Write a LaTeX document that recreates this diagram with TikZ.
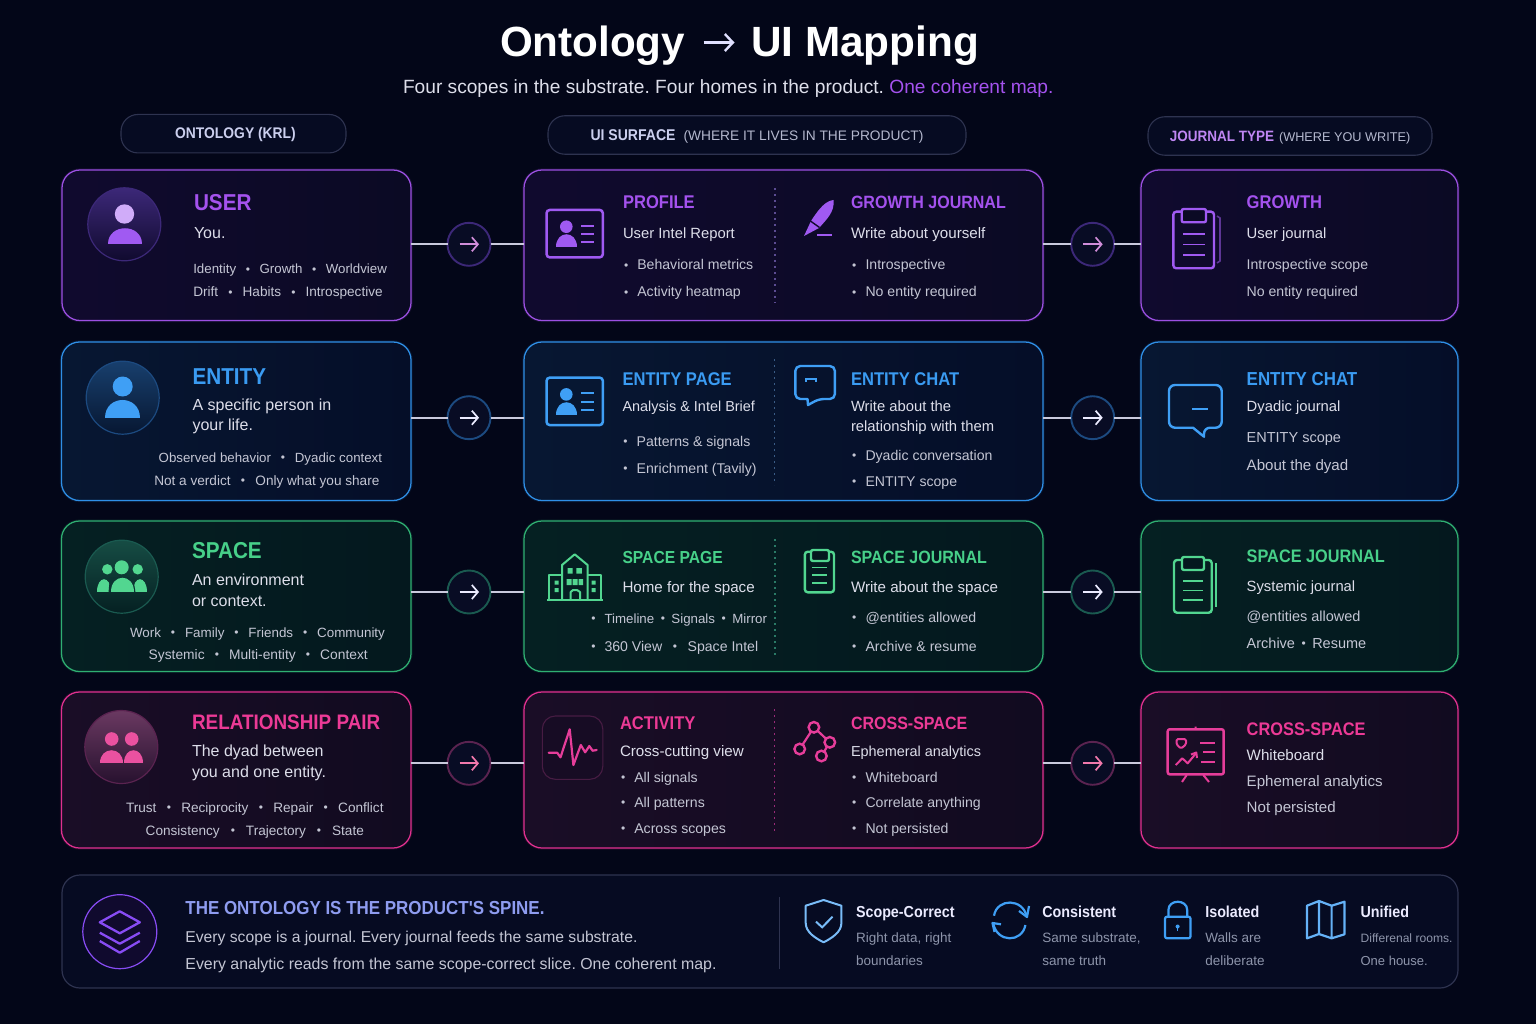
\documentclass[tikz,border=0pt]{standalone}
\usepackage{fontspec}
\setmainfont{Liberation Sans}
\newfontfamily\hdf[FakeStretch=0.9]{Liberation Sans}
\usetikzlibrary{arrows.meta,calc}
\frenchspacing
\definecolor{bg}{HTML}{030618}
\definecolor{puLine}{HTML}{9C50E2}\definecolor{puTitle}{HTML}{A452EE}\definecolor{puL}{HTML}{100A2E}\definecolor{puR}{HTML}{0B0A24}\definecolor{puRing}{HTML}{3C2878}\definecolor{puDiv}{HTML}{5C4C92}\definecolor{puIcon}{HTML}{A05AF2}
\definecolor{blLine}{HTML}{2F8FE6}\definecolor{blTitle}{HTML}{3A9BF2}\definecolor{blL}{HTML}{071732}\definecolor{blR}{HTML}{050E28}\definecolor{blRing}{HTML}{1C4A80}\definecolor{blDiv}{HTML}{3A5C86}\definecolor{blIcon}{HTML}{3F9FF5}
\definecolor{grLine}{HTML}{2FAF72}\definecolor{grTitle}{HTML}{47D089}\definecolor{grL}{HTML}{052022}\definecolor{grR}{HTML}{04181E}\definecolor{grRing}{HTML}{1A5A50}\definecolor{grDiv}{HTML}{2A7A66}\definecolor{grIcon}{HTML}{52D690}
\definecolor{piLine}{HTML}{E0308F}\definecolor{piTitle}{HTML}{EC3A96}\definecolor{piL}{HTML}{1A0D26}\definecolor{piR}{HTML}{110B20}\definecolor{piRing}{HTML}{5A2350}\definecolor{piDiv}{HTML}{9A2A78}\definecolor{piIcon}{HTML}{E63D9A}
\definecolor{bodyc}{HTML}{DDDEEA}\definecolor{tagc}{HTML}{C4C6D4}\definecolor{linkc}{HTML}{C9C9DC}\definecolor{footc}{HTML}{8E95AB}\definecolor{pillc}{HTML}{CBCFEE}\definecolor{pillsub}{HTML}{B4B8CE}
\definecolor{panel}{HTML}{060B22}\definecolor{panelline}{HTML}{2E3350}\definecolor{circfill}{HTML}{080C24}\definecolor{spine}{HTML}{8E9CF0}
\newcount\tcnt
\newcommand\fa{\hdf\bfseries\fontsize{23}{23}\selectfont}
\newcommand\fb{\hdf\bfseries\fontsize{18.4}{18}\selectfont}
\newcommand\fbs{\hdf\bfseries\fontsize{17.8}{18}\selectfont}
\newcommand\fc{\fontsize{16}{16}\selectfont}
\newcommand\fm{\fontsize{14.8}{15}\selectfont}
\newcommand\fmb{\fontsize{15.15}{15}\selectfont}
\newcommand\fms{\fontsize{14.45}{15}\selectfont}
\newcommand\fd{\fontsize{14.1}{14}\selectfont}
\newcommand\fe{\fontsize{14.5}{14}\selectfont}
\newcommand\ff{\fontsize{15.1}{15}\selectfont}
\newcommand\ft{\fontsize{13.3}{14}\selectfont}
\newcommand\ftb{\fontsize{13.6}{14}\selectfont}
\newcommand\dotb{\raisebox{0.9pt}{\fontsize{12}{12}\selectfont •}}
\newcommand\sx[1]{\hspace{#1pt}\dotb\hspace{#1pt}}
\newcommand{\tx}[5]{\global\advance\tcnt by 1 \node[lbl,text=#3,font=#4] (t\the\tcnt) at (#1,#2) {#5};}
\newcommand{\li}[3]{\tx{#1}{#2}{tagc}{\fd}{\dotb\hspace{9.1pt}#3}}
\newcommand{\card}[6]{\node[cardbox,draw=#6Line,left color=#6L,right color=#6R,
  preaction={draw=#6Line,line width=3.2pt,opacity=.12},
  minimum width=#4pt-#2pt,minimum height=#5pt-#3pt] (#1) at ({(#2+#4)/2},{(#3+#5)/2}) {};}
\newcommand{\flow}[3]{%
  \draw[linkline] (#1.east |- #2.center) -- (#2);
  \draw[linkline] (#2) -- (#3.west |- #2.center);}
\newcommand{\arr}[3]{\node[arrowc,draw=#3Ring] (#1) at (#2) {};}
\newcommand{\arrh}[2]{\draw[line width=1.7pt,#2,-{Straight Barb[length=6pt,width=14pt,line width=1.7pt]}] ([xshift=-9.5pt]#1.center) -- ([xshift=10pt]#1.center);}
\newcommand{\dome}[5]{\fill[#5] (#1,#4) .. controls (#1,{#3-(#4-#3)/3}) and (#2,{#3-(#4-#3)/3}) .. (#2,#4) -- cycle;}
\newcommand{\idcard}[2]{%
  \begin{scope}[yshift={-(#1-210)*1pt}]
  \draw[line width=2.5pt,#2Icon,rounded corners=3pt,fill=#2L] (546.6,210) rectangle (602.8,257.3);
  \fill[#2Icon] (566.3,226.7) circle (6.3);
  \dome{555.5}{577}{234.5}{247}{#2Icon}
  \draw[line width=1.9pt,#2Icon] (581,225.7) -- (594,225.7) (581,234) -- (594,234) (581,242.3) -- (594,242.3);
  \end{scope}}
\newcommand{\clipboard}[9]{%
  \draw[line width=2.4pt,#9Icon,rounded corners=3pt] (#1,#2) rectangle (#3,#4);
  \draw[line width=2.4pt,#9Icon,fill=#9R,rounded corners=2pt] (#5,#6) rectangle (#7,#8);}
\tikzset{x=1pt,y=-1pt,
  lbl/.style={anchor=base west,inner sep=0pt,outer sep=0pt},
  cardbox/.style={rectangle,rounded corners=18pt,line width=1.25pt,inner sep=0pt,outer sep=0pt},
  arrowc/.style={circle,minimum size=43pt,line width=1.9pt,fill=circfill,inner sep=0pt,outer sep=0pt},
  linkline/.style={draw=linkc,line width=1.7pt},
  pill/.style={rectangle,rounded corners=17pt,draw=panelline,line width=1.1pt,fill=panel,inner sep=0pt,minimum height=38.5pt},
  bub/.style={circle,inner sep=0pt,minimum size=73pt,line width=1.2pt},
  divd/.style={line width=1.3pt,dash pattern=on 1.6pt off 4.4pt},
}
\begin{document}
\begin{tikzpicture}
\useasboundingbox (0,0) rectangle (1536,1024);
\fill[bg] (0,0) rectangle (1536,1024);

% title
\tx{500}{57}{white}{\bfseries\fontsize{42.2}{42}\selectfont}{Ontology}
\tx{751}{57}{white}{\bfseries\fontsize{42.3}{42}\selectfont}{UI Mapping}
\node[inner sep=0pt,outer sep=0pt] (tarrA) at (703,42.5) {};
\node[inner sep=0pt,outer sep=0pt] (tarrB) at (735,42.5) {};
\draw[line width=2.4pt,white!88!blue,-{Straight Barb[length=8pt,width=17pt,line width=2.4pt]}] (tarrA) -- (tarrB);
\tx{403}{94}{bodyc}{\fontsize{19.15}{19}\selectfont}{Four scopes in the substrate. Four homes in the product. \textcolor{puTitle}{One coherent map.}}

% column pills
\node[pill,minimum width=225pt,text=pillc] (p1) at (233.5,133.7) {\hspace{4pt}\raisebox{-5.2pt}[0pt][0pt]{\hdf\bfseries\fontsize{15.4}{15}\selectfont ONTOLOGY (KRL)}};
\node[pill,minimum width=418pt,text=pillsub] (p2) at (757,135) {\raisebox{-6pt}[0pt][0pt]{\textcolor{pillc}{\hdf\bfseries\fontsize{15.6}{15}\selectfont UI SURFACE}\hspace{8pt}{\fontsize{13.75}{14}\selectfont(WHERE IT LIVES IN THE PRODUCT)}}};
\node[pill,minimum width=284pt,text=pillsub] (p3) at (1290,136) {\raisebox{-5.5pt}[0pt][0pt]{\textcolor{puTitle!70!white}{\hdf\bfseries\fontsize{15}{14}\selectfont JOURNAL TYPE}\hspace{5pt}{\fontsize{12.7}{14}\selectfont(WHERE YOU WRITE)}}};

% cards
\card{c1}{62}{170}{411}{320.5}{pu}
\card{m1}{524}{170}{1043}{320.5}{pu}
\card{r1}{1141}{170}{1458}{320.5}{pu}
\card{c2}{61.5}{342}{411}{500.5}{bl}
\card{m2}{524}{342}{1043}{500.5}{bl}
\card{r2}{1141}{342}{1458}{500.5}{bl}
\card{c3}{61.5}{521}{411}{671.5}{gr}
\card{m3}{524}{521}{1043}{671.5}{gr}
\card{r3}{1141}{521}{1458}{671.5}{gr}
\card{c4}{61.5}{692}{411}{848}{pi}
\card{m4}{524}{692}{1043}{848}{pi}
\card{r4}{1141}{692}{1458}{848}{pi}

% connectors
\arr{a1}{469,244.3}{pu}\arr{b1}{1092.7,244.3}{pu}
\arr{a2}{469,417.7}{bl}\arr{b2}{1092.7,417.7}{bl}
\arr{a3}{469,592}{gr}\arr{b3}{1092.7,592}{gr}
\arr{a4}{469,763.3}{pi}\arr{b4}{1092.7,763.3}{pi}
\flow{c1}{a1}{m1}\flow{m1}{b1}{r1}
\flow{c2}{a2}{m2}\flow{m2}{b2}{r2}
\flow{c3}{a3}{m3}\flow{m3}{b3}{r3}
\flow{c4}{a4}{m4}\flow{m4}{b4}{r4}
\arrh{a1}{puIcon!50!pink}\arrh{b1}{puIcon!50!pink}
\arrh{a2}{white!92!blue}\arrh{b2}{white!92!blue}
\arrh{a3}{white!92!blue}\arrh{b3}{white!92!blue}
\arrh{a4}{piIcon!55!pink}\arrh{b4}{piIcon!55!pink}

% left column icons
\node[bub,draw=puRing,top color=puRing,bottom color=puL] (i1) at (124.3,224.3) {};
\fill[puIcon!50!white] (124.5,214) circle (9.7);
\dome{107.5}{141.5}{228}{243.7}{puIcon}
\node[bub,draw=blRing,top color=blRing!85!black,bottom color=blL] (i2) at (122.7,397.7) {};
\fill[blIcon] (122.7,386.5) circle (10);
\dome{105}{140.3}{400}{417.5}{blIcon}
\node[bub,draw=grRing,top color=grRing!85!black,bottom color=grL] (i3) at (121.7,576.7) {};
\fill[grIcon] (121.7,567.3) circle (7) (107.3,569.3) circle (5.2) (137.7,569.3) circle (5.2);
\dome{97}{111}{579}{592.3}{grIcon}
\dome{133}{147}{579}{592.3}{grIcon}
\fill[grRing!35!grL] (108.5,592.3) -- (110,577) -- (133,577) -- (135.5,592.3) -- cycle;
\dome{111}{134.3}{577.7}{592.3}{grIcon}
\node[bub,draw=piRing,top color=piRing!90!white,bottom color=piL!80!piRing] (i4) at (121.3,747) {};
\fill[piIcon!85!pink] (111.7,739) circle (6.8) (131.7,739) circle (6.8);
\dome{100}{122.7}{750}{763.3}{piIcon!85!pink}
\dome{124}{143.3}{750}{763.3}{piIcon!85!pink}

% left column text
\tx{194}{210.7}{puTitle}{\fa}{USER}
\tx{194}{238.7}{bodyc}{\fc}{You.}
\tx{193.3}{274}{tagc}{\ft}{Identity\sx{9.6}Growth\sx{9.6}Worldview}
\tx{193.3}{297}{tagc}{\ftb}{Drift\sx{10.1}Habits\sx{10.1}Introspective}
\tx{192.5}{384}{blTitle}{\fa}{ENTITY}
\tx{192.5}{410.7}{bodyc}{\fc}{A specific person in}
\tx{192.5}{430.7}{bodyc}{\fc}{your life.}
\tx{158.7}{462}{tagc}{\ft}{Observed behavior\sx{9.8}Dyadic context}
\tx{154.3}{485.3}{tagc}{\ftb}{Not a verdict\sx{10.3}Only what you share}
\tx{192}{558.3}{grTitle}{\fa}{SPACE}
\tx{192}{585}{bodyc}{\fc}{An environment}
\tx{192}{606}{bodyc}{\fc}{or context.}
\tx{130}{637}{tagc}{\fontsize{13.4}{14}\selectfont}{Work\sx{9.9}Family\sx{9.9}Friends\sx{9.9}Community}
\tx{148.7}{659.7}{tagc}{\fontsize{13.8}{14}\selectfont}{Systemic\sx{10.1}Multi-entity\sx{10.1}Context}
\tx{192}{729.3}{piTitle}{\hdf\bfseries\fontsize{21}{21}\selectfont}{RELATIONSHIP PAIR}
\tx{192}{756.7}{bodyc}{\fc}{The dyad between}
\tx{192}{777.7}{bodyc}{\fc}{you and one entity.}
\tx{126}{812}{tagc}{\ftb}{Trust\sx{10.3}Reciprocity\sx{10.3}Repair\sx{10.3}Conflict}
\tx{145.7}{835}{tagc}{\ftb}{Consistency\sx{11}Trajectory\sx{11}State}

% middle dividers
\draw[divd,puDiv] (775,188) -- (775,303);
\draw[divd,blDiv] (774.7,359) -- (774.7,485);
\draw[divd,grDiv] (775,539) -- (775,655);
\draw[divd,piDiv] (774.6,709) -- (774.6,833);

% middle icons
\idcard{210}{pu}
\idcard{377.7}{bl}
% pen
\fill[puIcon] (833.5,200) .. controls (826,201) and (820,207) .. (811,221) -- (804,236) -- (819,228) .. controls (826,220) and (835,212) .. cycle;
\draw[line width=1.4pt,puL] (809,220) -- (819.5,227.5);
\draw[line width=2pt,puIcon] (817.3,235.5) -- (831.5,235.5);
% chat mid
\draw[line width=2.4pt,blIcon,rounded corners=5pt,line join=round] (795.3,382) -- (795.3,366) -- (834.9,366) -- (834.9,399) -- (819,399) [sharp corners] -- (808,405) -- (807.5,399) [rounded corners=5pt] -- (795.3,399) -- cycle;
\draw[line width=2.6pt,blIcon] (806,381.5) -- (806,379) -- (816,379) -- (816,382);
% building
\begin{scope}[line width=2pt,grIcon,line join=round]
\draw (547,600) -- (602.8,600);
\draw (562,600) -- (562,565) -- (574.7,554.3) -- (587.6,565) -- (587.6,600);
\draw (549,600) -- (549,575) -- (562,575) (587.6,575) -- (601,575) -- (601,600);
\draw (570.7,600) -- (570.7,592) -- (573,590) -- (577,590) -- (580,592) -- (580,600);
\fill (567.5,568) rectangle (572.7,573.5) (576.4,568) rectangle (581.8,573.5)
      (566.5,579) rectangle (571.5,585) (572.5,579) rectangle (577.5,585) (578.5,579) rectangle (583,585)
      (554.5,580.5) rectangle (558.5,584.5) (554.5,588) rectangle (558.5,592) (591.5,580.5) rectangle (595.5,584.5) (591.5,588) rectangle (595.5,592);
\end{scope}
% space journal mid
\clipboard{804.8}{551.7}{834}{592.3}{811}{550}{829}{561}{gr}
\draw[line width=1.6pt,grIcon] (812,567.3) -- (827,567.3) (812,575) -- (827,575) (812,582.7) -- (827,582.7);
% pulse
\draw[line width=1.1pt,piRing!70!piL,rounded corners=13pt,fill=piL!70!piR] (542.3,716) rectangle (602.8,779.3);
\draw[line width=2.2pt,piIcon,line join=round,line cap=round] (548.7,752.7) -- (557.2,752.7) -- (560.5,757.3) -- (569.7,729.3) -- (573.4,765) -- (580.8,745) -- (585.2,752.3) -- (589.3,746) -- (592.6,750.7) -- (596.7,750);
% cross-space graph
\draw[line width=2.2pt,piIcon] (813.9,727.3) -- (799.7,749) (813.9,727.3) -- (829.8,742.3) -- (821.4,756);
\draw[line width=2.4pt,piIcon,fill=piR] (813.9,727.3) circle (5.3) (829.8,742.3) circle (5.3) (799.7,749) circle (5.3) (821.4,756) circle (5.3);

% middle text
\tx{623}{209}{puTitle}{\fb}{PROFILE}
\tx{623}{238.7}{bodyc}{\fm}{User Intel Report}
\li{624}{270}{Behavioral metrics}
\li{624}{297}{Activity heatmap}
\tx{851}{209}{puTitle}{\fbs}{GROWTH JOURNAL}
\tx{851}{238.7}{bodyc}{\fmb}{Write about yourself}
\li{852.2}{270}{Introspective}
\li{852.2}{297}{No entity required}
\tx{622.5}{385}{blTitle}{\fb}{ENTITY PAGE}
\tx{622.5}{411.7}{bodyc}{\fms}{Analysis \& Intel Brief}
\li{623.4}{446}{Patterns \& signals}
\li{623.4}{473.7}{Enrichment (Tavily)}
\tx{851}{385}{blTitle}{\fb}{ENTITY CHAT}
\tx{851}{411.7}{bodyc}{\fm}{Write about the}
\tx{851}{431.7}{bodyc}{\fm}{relationship with them}
\li{852.2}{460.7}{Dyadic conversation}
\li{852.2}{486.7}{ENTITY scope}
\tx{622.5}{563.3}{grTitle}{\fontsize{17.4}{18}\selectfont\hdf\bfseries}{SPACE PAGE}
\tx{622.5}{592.7}{bodyc}{\fmb}{Home for the space}
\tx{591.4}{623.7}{tagc}{\ft}{\dotb\hspace{8.9pt}Timeline\sx{6.5}Signals\sx{6.5}Mirror}
\tx{591.4}{651.7}{tagc}{\fd}{\dotb\hspace{8.9pt}360 View\sx{10.6}Space Intel}
\tx{851}{563.3}{grTitle}{\fbs}{SPACE JOURNAL}
\tx{851}{592.7}{bodyc}{\fmb}{Write about the space}
\li{852.2}{622}{@entities allowed}
\li{852.2}{651.3}{Archive \& resume}
\tx{620}{729.3}{piTitle}{\fb}{ACTIVITY}
\tx{620}{756}{bodyc}{\fmb}{Cross-cutting view}
\li{621}{782.3}{All signals}
\li{621}{807.7}{All patterns}
\li{621}{833}{Across scopes}
\tx{851}{729.3}{piTitle}{\fbs}{CROSS-SPACE}
\tx{851}{756}{bodyc}{\fms}{Ephemeral analytics}
\li{852.2}{782.3}{Whiteboard}
\li{852.2}{807.7}{Correlate anything}
\li{852.2}{833}{Not persisted}

% right icons
\draw[line width=1.6pt,puIcon!55!puR] (1217,216) -- (1220,218) -- (1220,261) -- (1217,263);
\clipboard{1173.3}{211.7}{1214}{268.3}{1181.7}{209}{1206}{222.3}{pu}
\draw[line width=1.6pt,puIcon] (1183,234) -- (1205,234) (1183,244.7) -- (1205,244.7) (1183,255) -- (1205,255);
\draw[line width=2.4pt,blIcon,rounded corners=6pt,line join=round] (1169,405) -- (1169,385) -- (1221.7,385) -- (1221.7,427.7) -- (1204,427.7) [sharp corners] -- (1204,436.7) -- (1193,427.7) [rounded corners=6pt] -- (1169,427.7) -- cycle;
\draw[line width=2.4pt,blIcon] (1192,409) -- (1208,409);
\draw[line width=1.8pt,grIcon] (1216,563) -- (1216,607);
\clipboard{1174}{560}{1211.7}{612.7}{1182}{557}{1204}{570}{gr}
\draw[line width=1.6pt,grIcon] (1183,581) -- (1203,581) (1183,590.3) -- (1203,590.3) (1183,599.7) -- (1203,599.7);
\begin{scope}[piIcon,line join=round]
\draw[line width=2.5pt,rounded corners=2pt] (1167.7,729.3) rectangle (1223.7,774.3);
\draw[line width=2pt] (1195.5,729) -- (1195.5,726.5) (1186.7,775) -- (1182,782) (1203.3,775) -- (1209,782);
\draw[line width=2pt,rounded corners=1.5pt] (1176.5,739) -- (1186,739) -- (1186,744.5) -- (1181,748.5) -- (1176.5,744.5) -- cycle;
\draw[line width=2pt] (1175.7,765) -- (1182.3,758.3) -- (1187.7,763.3) -- (1196,753.3);
\draw[line width=2pt] (1191,754.5) -- (1196.3,752.5) -- (1197,758);
\draw[line width=1.8pt] (1200,742.7) -- (1215,742.7) (1203,752) -- (1215,752) (1201,762) -- (1215,762);
\end{scope}

% right text
\tx{1246.7}{209}{puTitle}{\fb}{GROWTH}
\tx{1246.7}{238.7}{bodyc}{\fm}{User journal}
\tx{1246.7}{270}{tagc}{\fd}{Introspective scope}
\tx{1246.7}{297}{tagc}{\fd}{No entity required}
\tx{1246.7}{385}{blTitle}{\fontsize{18.8}{18}\selectfont\hdf\bfseries}{ENTITY CHAT}
\tx{1246.7}{411.7}{bodyc}{\fm}{Dyadic journal}
\tx{1246.7}{442.3}{tagc}{\fe}{ENTITY scope}
\tx{1246.7}{470.3}{tagc}{\ff}{About the dyad}
\tx{1246.7}{562.3}{grTitle}{\fontsize{18.1}{18}\selectfont\hdf\bfseries}{SPACE JOURNAL}
\tx{1246.7}{591.3}{bodyc}{\fm}{Systemic journal}
\tx{1246.7}{621.3}{tagc}{\fe}{@entities allowed}
\tx{1246.7}{648}{tagc}{\fe}{Archive\hspace{6.5pt}\dotb\hspace{6.5pt}Resume}
\tx{1246.7}{735}{piTitle}{\fontsize{18.2}{18}\selectfont\hdf\bfseries}{CROSS-SPACE}
\tx{1246.7}{760.7}{bodyc}{\fmb}{Whiteboard}
\tx{1246.7}{786.7}{tagc}{\ff}{Ephemeral analytics}
\tx{1246.7}{812.7}{tagc}{\ff}{Not persisted}

% footer panel
\node[cardbox,draw=panelline,line width=1.2pt,fill=panel,minimum width=1396pt,minimum height=113pt] (foot) at (760,931.5) {};
\node[bub,draw=puIcon!85!blue,fill=puL,minimum size=74pt] (i5) at (119.8,931.7) {};
\begin{scope}[line width=2.3pt,puIcon!85!blue,line join=round]
\draw (119.8,911.3) -- (139.8,922.3) -- (119.8,933.3) -- (99.8,922.3) -- cycle;
\draw (99.8,932.7) -- (119.8,943.7) -- (139.8,932.7);
\draw (99.8,941) -- (119.8,952.7) -- (139.8,941);
\end{scope}
\tx{185.4}{914}{spine}{\hdf\bfseries\fontsize{18.85}{19}\selectfont}{THE ONTOLOGY IS THE PRODUCT'S SPINE.}
\tx{185.4}{942.3}{tagc}{\fontsize{15.7}{15}\selectfont}{Every scope is a journal. Every journal feeds the same substrate.}
\tx{185.4}{969.3}{tagc}{\fontsize{15.9}{15}\selectfont}{Every analytic reads from the same scope-correct slice. One coherent map.}
\draw[line width=1pt,panelline] (779,897) -- (779,969);
% shield
\draw[line width=2pt,blIcon!70!white,line join=round] (823.6,900) -- (841.4,905.7) -- (841.4,923) .. controls (841.4,932) and (832,938) .. (823.6,942.3) .. controls (815,938) and (805.7,932) .. (805.7,923) -- (805.7,905.7) -- cycle;
\draw[line width=2pt,blIcon!70!white] (816,921.7) -- (822.2,927.3) -- (832.5,916.7);
% sync
\begin{scope}[line width=2.2pt,blIcon,line join=round]
\draw (994,915.7) .. controls (997,898) and (1023,898) .. (1026.7,916.7);
\draw (1019,911) -- (1027,917) -- (1029,906);
\draw (1025.4,925) .. controls (1022,943) and (997,943) .. (993.2,923.3);
\draw (1001,924.3) -- (992.5,923) -- (994.5,932);
\end{scope}
% lock
\begin{scope}[line width=2.2pt,blIcon,line join=round]
\draw[rounded corners=2pt] (1165,916.7) rectangle (1190.5,938.3);
\draw (1168.4,916.7) -- (1168.4,910) .. controls (1168.4,899) and (1187.2,899) .. (1187.2,910) -- (1187.2,916.7);
\fill (1177.6,926.5) circle (2);
\draw[line width=1.2pt] (1177.6,927) -- (1177.6,931);
\end{scope}
% map
\draw[line width=2.2pt,blIcon!80!white,line join=round] (1307,905.7) -- (1319,901) -- (1331.6,905.7) -- (1344.5,901.7) -- (1344.5,934.3) -- (1331.6,938.3) -- (1319,934) -- (1307,938.3) -- cycle (1319,901) -- (1319,934) (1331.6,905.7) -- (1331.6,938.3);
% footer text
\tx{856}{917.3}{white!92!blue}{\hdf\bfseries\fontsize{15.9}{16}\selectfont}{Scope-Correct}
\tx{856}{942.3}{footc}{\fontsize{13.5}{14}\selectfont}{Right data, right}
\tx{856}{965}{footc}{\fontsize{13.5}{14}\selectfont}{boundaries}
\tx{1042.3}{917.3}{white!92!blue}{\hdf\bfseries\fontsize{15.9}{16}\selectfont}{Consistent}
\tx{1042.3}{942.3}{footc}{\fontsize{13.5}{14}\selectfont}{Same substrate,}
\tx{1042.3}{965}{footc}{\fontsize{13.5}{14}\selectfont}{same truth}
\tx{1205.3}{917.3}{white!92!blue}{\hdf\bfseries\fontsize{15.9}{16}\selectfont}{Isolated}
\tx{1205.3}{942.3}{footc}{\fontsize{13.5}{14}\selectfont}{Walls are}
\tx{1205.3}{965}{footc}{\fontsize{13.5}{14}\selectfont}{deliberate}
\tx{1360.6}{917.3}{white!92!blue}{\hdf\bfseries\fontsize{15.9}{16}\selectfont}{Unified}
\tx{1360.6}{942.3}{footc}{\fontsize{12.1}{12}\selectfont}{Differenal rooms.}
\tx{1360.6}{965}{footc}{\fontsize{13}{13}\selectfont}{One house.}
\end{tikzpicture}
\end{document}
